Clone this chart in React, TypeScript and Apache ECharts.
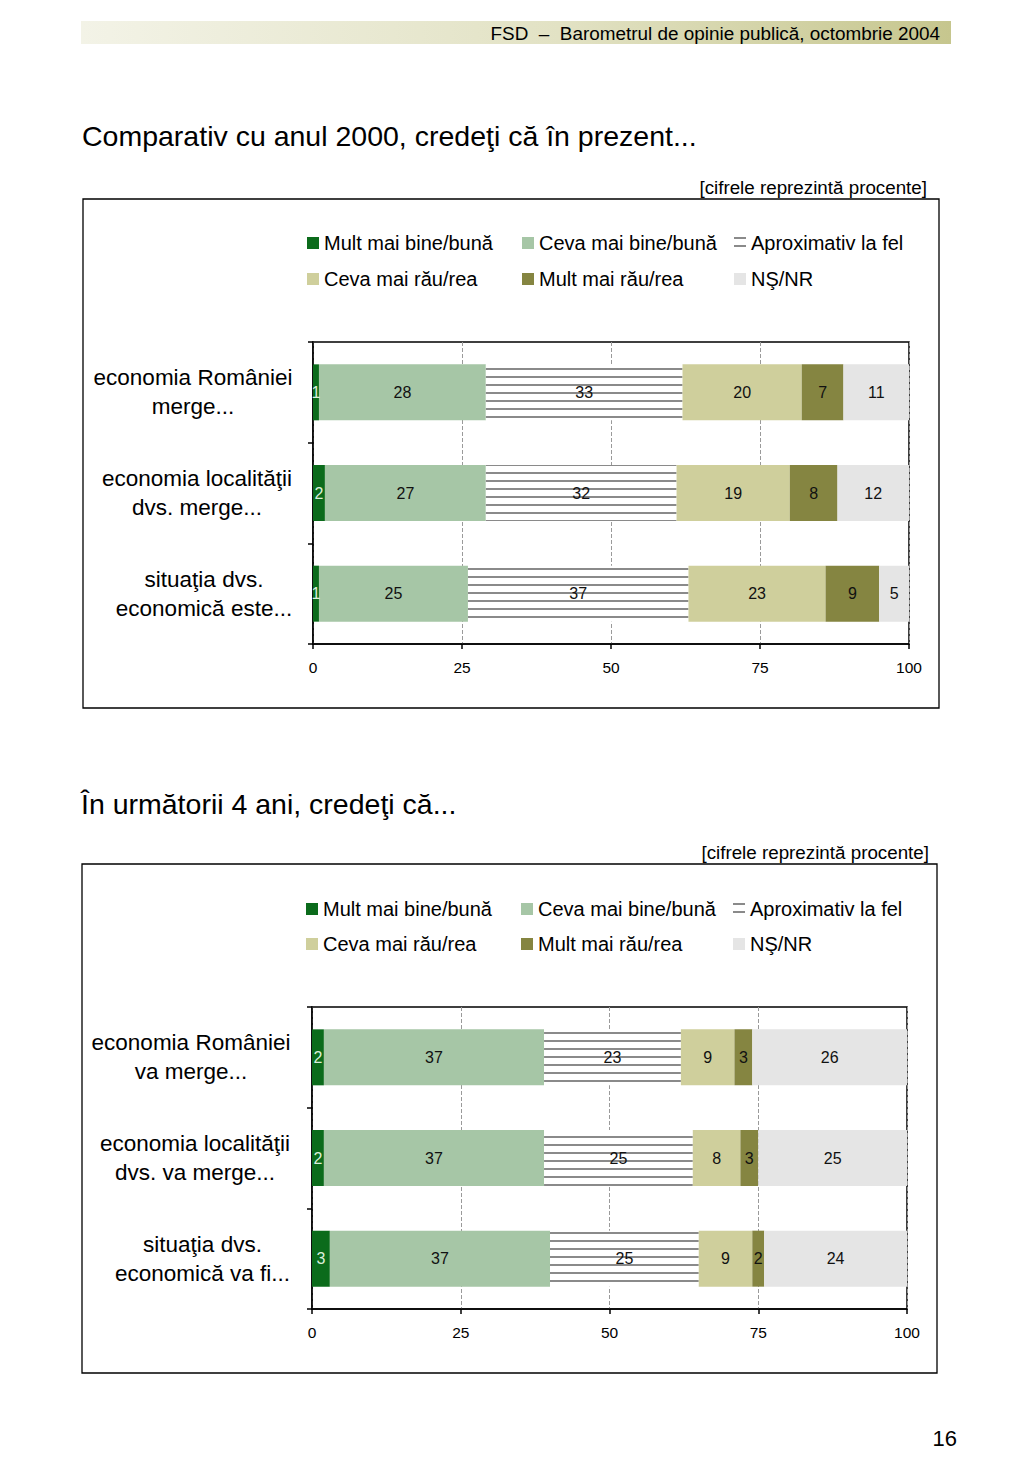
import React, { useEffect, useRef } from "react";
import * as echarts from "echarts";

const FONT = '"Liberation Sans", Arial, Helvetica, sans-serif';

const SERIES_NAMES = [
  "Mult mai bine/bună",
  "Ceva mai bine/bună",
  "Aproximativ la fel",
  "Ceva mai rău/rea",
  "Mult mai rău/rea",
  "NŞ/NR",
];
const COLORS = ["#0b6b1b", "#a6c6a6", "#ffffff", "#cfcf9c", "#858541", "#e5e5e5"];

const X_TICKS = [0, 25, 50, 75, 100];

// Chart 1
const C1_TITLE = "Comparativ cu anul 2000, credeţi că în prezent...";
const C1_CATEGORIES = ["economia României\nmerge...", "economia localităţii\ndvs. merge...", "situaţia dvs.\neconomică este..."];
const C1_MULT_BINE = [1, 2, 1];
const C1_CEVA_BINE = [28, 27, 25];
const C1_APROX = [33, 32, 37];
const C1_CEVA_RAU = [20, 19, 23];
const C1_MULT_RAU = [7, 8, 9];
const C1_NSNR = [11, 12, 5];

// Chart 2
const C2_TITLE = "În următorii 4 ani, credeţi că...";
const C2_CATEGORIES = ["economia României\nva merge...", "economia localităţii\ndvs. va merge...", "situaţia dvs.\neconomică va fi..."];
const C2_MULT_BINE = [2, 2, 3];
const C2_CEVA_BINE = [37, 37, 37];
const C2_APROX = [23, 25, 25];
const C2_CEVA_RAU = [9, 8, 9];
const C2_MULT_RAU = [3, 3, 2];
const C2_NSNR = [26, 25, 24];

const NOTE = "[cifrele reprezintă procente]";
const HEADER = "FSD  –  Barometrul de opinie publică, octombrie 2004";
const PAGE_NUMBER = "16";

const CAT_FONT_SIZE = 22.5;

function measure(text: string, font: string): number {
  const c = document.createElement("canvas");
  const ctx = c.getContext("2d");
  if (!ctx) return text.length * 10;
  ctx.font = font;
  return ctx.measureText(text).width;
}

function buildSeries(gridIndex: number, stack: string, arrays: number[][]) {
  return arrays.map((data, i) => {
    const s: any = {
      type: "bar",
      name: SERIES_NAMES[i],
      stack,
      xAxisIndex: gridIndex,
      yAxisIndex: gridIndex,
      data,
      barWidth: 56,
      itemStyle: { color: COLORS[i] },
      label: {
        show: true,
        position: "inside",
        formatter: "{c}",
        fontFamily: FONT,
        fontSize: 16,
        color: i === 0 ? "#dcefdc" : "#111",
      },
      emphasis: { disabled: true },
    };
    if (i === 2) {
      s.itemStyle.decal = {
        symbol: "rect",
        symbolSize: 1,
        color: "#8a8a8a",
        dashArrayX: [1, 0],
        dashArrayY: [2, 5.6],
        rotation: 0,
      };
    }
    return s;
  });
}

function buildLegends(cols: number[], top: number, gap: number) {
  const groups = [
    [SERIES_NAMES[0], SERIES_NAMES[3]],
    [SERIES_NAMES[1], SERIES_NAMES[4]],
    [SERIES_NAMES[2], SERIES_NAMES[5]],
  ];
  return groups.map((g, i) => ({
    data: g,
    left: cols[i],
    top,
    orient: "vertical",
    padding: 0,
    itemGap: gap,
    itemWidth: 12,
    itemHeight: 12,
    icon: "rect",
    textStyle: { fontFamily: FONT, fontSize: 20, color: "#000", lineHeight: 20 },
  }));
}

function xAxis(gridIndex: number) {
  return {
    type: "value",
    gridIndex,
    min: 0,
    max: 100,
    interval: 25,
    axisLine: { show: true, lineStyle: { color: "#000", width: 1.5 } },
    axisTick: { show: true, length: 5, lineStyle: { color: "#000", width: 1.5 } },
    axisLabel: {
      fontFamily: FONT,
      fontSize: 15.5,
      color: "#000",
      margin: 15,
      formatter: (v: number) => (X_TICKS.includes(v) ? String(v) : ""),
    },
    splitLine: { show: true, lineStyle: { color: "#9a9a9a", width: 1, type: [4, 2] } },
  };
}

function yAxis(gridIndex: number, data: string[], margin: number) {
  const font = `${CAT_FONT_SIZE}px ${FONT}`;
  const rich: any = {};
  data.forEach((label, idx) => {
    const w = Math.max(...label.split("\n").map((l) => measure(l, font)));
    rich["c" + idx] = {
      width: Math.ceil(w) + 1,
      align: "center",
      fontFamily: FONT,
      fontSize: CAT_FONT_SIZE,
      lineHeight: 29,
      color: "#000",
    };
  });
  return {
    type: "category",
    gridIndex,
    data,
    inverse: true,
    axisLine: { show: true, lineStyle: { color: "#000", width: 1.5 } },
    axisTick: { show: true, length: 5, lineStyle: { color: "#000", width: 1.5 } },
    axisLabel: {
      fontFamily: FONT,
      fontSize: CAT_FONT_SIZE,
      lineHeight: 29,
      color: "#000",
      align: "right",
      margin,
      rich,
      formatter: (value: string, index: number) =>
        value
          .split("\n")
          .map((l) => `{c${index}|${l}}`)
          .join("\n"),
    },
  };
}

export default function App() {
  const ref = useRef<HTMLDivElement>(null);
  useEffect(() => {
    if (!ref.current) return;
    const chart = echarts.init(ref.current, null, { renderer: "svg" });
    const option: any = {
      animation: false,
      backgroundColor: "#fff",
      grid: [
        { left: 313, top: 342, width: 596, height: 302, show: true, borderColor: "#000", borderWidth: 1.5 },
        { left: 312, top: 1007, width: 595, height: 302, show: true, borderColor: "#000", borderWidth: 1.5 },
      ],
      xAxis: [xAxis(0), xAxis(1)],
      yAxis: [yAxis(0, C1_CATEGORIES, 20), yAxis(1, C2_CATEGORIES, 21)],
      legend: [...buildLegends([307, 522, 734], 233, 16), ...buildLegends([306, 521, 733], 899, 15)],
      series: [
        ...buildSeries(0, "c1", [C1_MULT_BINE, C1_CEVA_BINE, C1_APROX, C1_CEVA_RAU, C1_MULT_RAU, C1_NSNR]),
        ...buildSeries(1, "c2", [C2_MULT_BINE, C2_CEVA_BINE, C2_APROX, C2_CEVA_RAU, C2_MULT_RAU, C2_NSNR]),
      ],
      graphic: [
        {
          type: "rect",
          shape: { x: 81, y: 21, width: 870, height: 23 },
          style: {
            fill: new echarts.graphic.LinearGradient(0, 0, 1, 0, [
              { offset: 0, color: "#f3f3e7" },
              { offset: 0.55, color: "#e2e2c4" },
              { offset: 1, color: "#c6c68e" },
            ]),
          },
          silent: true,
        },
        {
          type: "text",
          style: { text: HEADER, x: 940, y: 33, textAlign: "right", textVerticalAlign: "middle", font: `18.9px ${FONT}`, fill: "#000" },
          silent: true,
        },
        {
          type: "text",
          style: { text: C1_TITLE, x: 82, y: 136, textAlign: "left", textVerticalAlign: "middle", font: `28.5px ${FONT}`, fill: "#000" },
        },
        {
          type: "text",
          style: { text: NOTE, x: 927, y: 187, textAlign: "right", textVerticalAlign: "middle", font: `18.8px ${FONT}`, fill: "#000" },
        },
        {
          type: "rect",
          shape: { x: 83, y: 199, width: 856, height: 509 },
          style: { fill: "none", stroke: "#000", lineWidth: 1.3 },
          silent: true,
        },
        {
          type: "text",
          style: { text: C2_TITLE, x: 81, y: 804, textAlign: "left", textVerticalAlign: "middle", font: `28.5px ${FONT}`, fill: "#000" },
        },
        {
          type: "text",
          style: { text: NOTE, x: 929, y: 852, textAlign: "right", textVerticalAlign: "middle", font: `18.8px ${FONT}`, fill: "#000" },
        },
        {
          type: "rect",
          shape: { x: 82, y: 864, width: 855, height: 509 },
          style: { fill: "none", stroke: "#000", lineWidth: 1.3 },
          silent: true,
        },
        {
          type: "text",
          style: { text: PAGE_NUMBER, x: 957, y: 1438, textAlign: "right", textVerticalAlign: "middle", font: `22px ${FONT}`, fill: "#000" },
        },
      ],
    };
    chart.setOption(option);
    return () => chart.dispose();
  }, []);
  return (
    <div
      ref={ref}
      style={{ position: "absolute", left: 0, top: 0, width: 1024, height: 1479, background: "#fff" }}
    />
  );
}
